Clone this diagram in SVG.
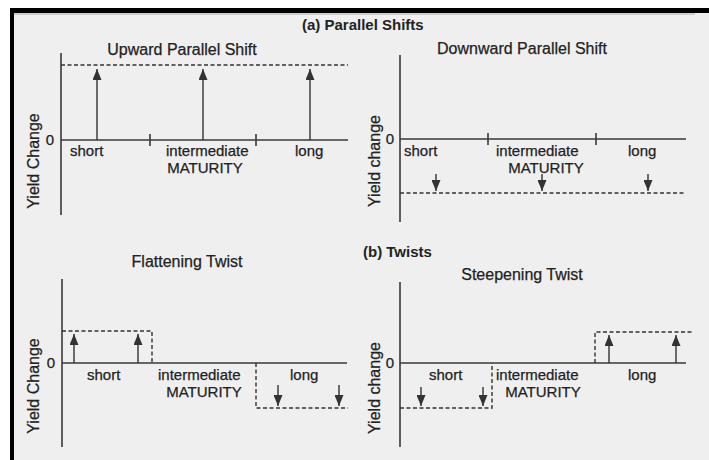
<svg xmlns="http://www.w3.org/2000/svg" width="709" height="460" viewBox="0 0 709 460">
<style>
text{font-family:"Liberation Sans",Arial,sans-serif;font-size:15px;fill:#222;stroke:#222;stroke-width:0.25}
.h{font-weight:bold;font-size:15px;stroke:none}
.t{font-size:16px}
.y{font-size:16px}
.m{text-anchor:middle}
.ax{stroke:#3a3a3a;stroke-width:1.6;fill:none}
.ds{stroke:#333;stroke-width:1.4;fill:none;stroke-dasharray:4 2.5}
.ar{stroke:#333;stroke-width:1.4;fill:none;marker-end:url(#ah)}
</style>
<defs>
<marker id="ah" markerUnits="userSpaceOnUse" markerWidth="12" markerHeight="9" refX="11" refY="4.5" orient="auto">
<path d="M0,0 L11,4.5 L0,9 z" fill="#333"/>
</marker>
</defs>
<rect x="0" y="0" width="709" height="460" fill="#fff"/>
<rect x="10" y="8" width="699" height="452" fill="#efefef"/>
<rect x="10" y="8" width="699" height="5" fill="#000"/>
<rect x="10" y="8" width="4" height="452" fill="#000"/>
<line x1="14" y1="14" x2="695" y2="14" stroke="#aaa" stroke-width="1"/>

<text class="h" x="302" y="30">(a) Parallel Shifts</text>
<text class="h" x="363" y="257">(b) Twists</text>

<g id="upward">
<text class="m t" x="182" y="55">Upward Parallel Shift</text>
<path class="ax" d="M61 53 V215 M61 140 H348 M150 134 V146 M256 134 V146"/>
<path class="ds" d="M61 65 H348"/>
<text x="50" y="145" class="m">0</text>
<text x="70" y="156">short</text>
<text x="166" y="156">intermediate</text>
<text x="205" y="172.5" class="m">MATURITY</text>
<text x="295" y="156">long</text>
<text class="m y" transform="translate(39,161) rotate(-90)">Yield Change</text>
</g>

<g id="downward">
<text class="m t" x="522" y="54">Downward Parallel Shift</text>
<path class="ax" d="M400 55 V222 M400 139 H686 M488 133 V145 M596 133 V145"/>
<path class="ds" d="M400 193 H686"/>
<text x="390" y="144" class="m">0</text>
<text x="404" y="156">short</text>
<text x="496" y="156">intermediate</text>
<text x="546" y="172.5" class="m">MATURITY</text>
<text x="628" y="156">long</text>
<text class="m y" transform="translate(380,161) rotate(-90)">Yield change</text>
</g>

<g id="flattening">
<text class="m t" x="187" y="267">Flattening Twist</text>
<path class="ax" d="M62 279 V447 M62 363 H347"/>
<path class="ds" d="M62 331 H152 V363 M256 363 V408 H348"/>
<text x="51" y="368" class="m">0</text>
<text x="87" y="380">short</text>
<text x="158" y="380">intermediate</text>
<text x="204" y="396.5" class="m">MATURITY</text>
<text x="290" y="380">long</text>
<text class="m y" transform="translate(39,386) rotate(-90)">Yield Change</text>
</g>

<g id="steepening">
<text class="m t" x="522" y="280">Steepening Twist</text>
<path class="ax" d="M400 282 V447 M400 363 H686"/>
<path class="ds" d="M400 408 H492 V363 M595 363 V332 H694"/>
<text x="390" y="368" class="m">0</text>
<text x="429" y="380">short</text>
<text x="496" y="380">intermediate</text>
<text x="543" y="396.5" class="m">MATURITY</text>
<text x="628" y="380">long</text>
<text class="m y" transform="translate(380,388) rotate(-90)">Yield change</text>
</g>

<g id="connectors">
<line class="ar" x1="97" y1="140" x2="97" y2="69"/>
<line class="ar" x1="203" y1="140" x2="203" y2="69"/>
<line class="ar" x1="310" y1="140" x2="310" y2="69"/>
<line class="ar" x1="436" y1="174" x2="436" y2="191"/>
<line class="ar" x1="542" y1="174" x2="542" y2="191"/>
<line class="ar" x1="648" y1="174" x2="648" y2="191"/>
<line class="ar" x1="74" y1="363" x2="74" y2="334"/>
<line class="ar" x1="138" y1="363" x2="138" y2="334"/>
<line class="ar" x1="278" y1="385" x2="278" y2="406"/>
<line class="ar" x1="339" y1="385" x2="339" y2="406"/>
<line class="ar" x1="421" y1="387" x2="421" y2="406"/>
<line class="ar" x1="483" y1="387" x2="483" y2="406"/>
<line class="ar" x1="609" y1="363" x2="609" y2="335"/>
<line class="ar" x1="676" y1="363" x2="676" y2="335"/>
</g>
</svg>
